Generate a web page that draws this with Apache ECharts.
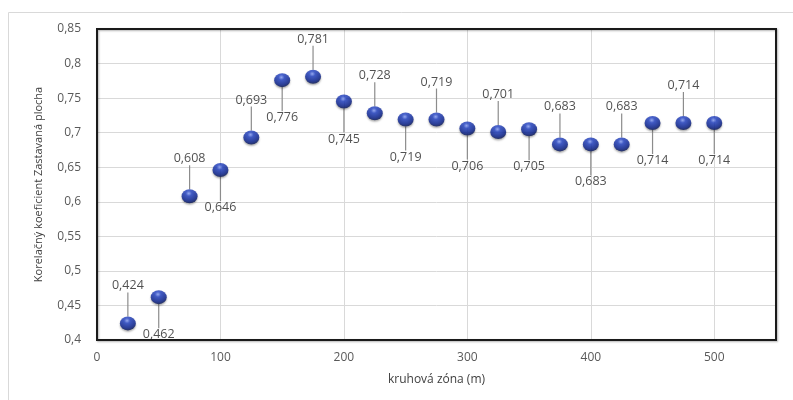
<!DOCTYPE html>
<html>
<head>
<meta charset="utf-8">
<script src="https://cdn.jsdelivr.net/npm/echarts@6/dist/echarts.min.js"></script>
<style>
html,body{margin:0;padding:0;background:#fff;}
#c{width:793px;height:400px;}
</style>
</head>
<body>
<div id="c"></div>
<script>
const zones = [25, 50, 75, 100, 125, 150, 175, 200, 225, 250, 275, 300, 325, 350, 375, 400, 425, 450, 475, 500];
const coefficients = [0.424, 0.462, 0.608, 0.646, 0.693, 0.776, 0.781, 0.745, 0.728, 0.719, 0.719, 0.706, 0.701, 0.705, 0.683, 0.683, 0.683, 0.714, 0.714, 0.714];
const xTitle = 'kruhová zóna (m)';
const yTitle = 'Korelačný koeficient Zastavaná plocha';

const chart = echarts.init(document.getElementById('c'), null, {renderer: 'canvas'});
const font = 'Open Sans, Noto Sans, sans-serif';
const fmt = v => String(v).replace('.', ',');

const data = zones.map((z, i) => ({
  value: [z, coefficients[i]],
  label: { position: i % 2 === 0 ? 'top' : 'bottom' }
}));

const G = { left: 97, top: 29, right: 17, bottom: 60 };

chart.setOption({
  animation: false,
  graphic: [{
    type: 'rect', silent: true, z: -10,
    shape: { x: 8.5, y: 12.5, width: 800, height: 400 },
    style: { fill: 'none', stroke: '#d9d9d9', lineWidth: 1 }
  }, {
    type: 'rect', silent: true, z: 1,
    shape: { x: G.left, y: G.top, width: 793 - G.left - G.right, height: 400 - G.top - G.bottom },
    style: { fill: 'none', stroke: '#1a1a1a', lineWidth: 2,
      shadowColor: 'rgba(0,0,0,0.3)', shadowBlur: 2, shadowOffsetX: 1, shadowOffsetY: 1 }
  }],
  grid: { left: G.left, top: G.top, right: G.right, bottom: G.bottom, containLabel: false },
  xAxis: {
    type: 'value', min: 0, max: 550, interval: 100,
    name: xTitle, nameLocation: 'middle', nameGap: 34,
    nameTextStyle: { fontFamily: font, fontSize: 12, color: '#404040' },
    axisLine: { show: false }, axisTick: { show: false },
    axisLabel: { fontFamily: font, fontSize: 12, color: '#595959', margin: 12,
      showMaxLabel: false },
    splitLine: { show: true, lineStyle: { color: '#d9d9d9', width: 1 } }
  },
  yAxis: {
    type: 'value', min: 0.4, max: 0.85, interval: 0.05,
    name: yTitle, nameLocation: 'middle', nameGap: 53, nameRotate: 90,
    nameTextStyle: { fontFamily: font, fontSize: 11, color: '#404040' },
    axisLine: { show: false }, axisTick: { show: false },
    axisLabel: { fontFamily: font, fontSize: 12, color: '#595959', margin: 16,
      formatter: v => fmt(Math.round(v * 100) / 100) },
    splitLine: { show: true, lineStyle: { color: '#d9d9d9', width: 1 } }
  },
  series: [{
    type: 'scatter',
    symbol: 'circle',
    symbolSize: [16, 14],
    z: 3,
    data: data,
    itemStyle: {
      color: {
        type: 'radial', x: 0.45, y: 0.3, r: 0.75,
        colorStops: [
          { offset: 0, color: '#8ea6ff' },
          { offset: 0.25, color: '#2444c8' },
          { offset: 0.7, color: '#0a2290' },
          { offset: 1, color: '#040f40' }
        ]
      },
      shadowColor: 'rgba(0,0,0,0.4)', shadowBlur: 2, shadowOffsetY: 1.5
    },
    label: {
      show: true, distance: 4,
      fontFamily: font, fontSize: 12.5, color: '#262626',
      formatter: p => fmt(p.value[1])
    },
    labelLayout: p => ({ dy: p.dataIndex % 2 === 0 ? -20 : 20 }),
    labelLine: { show: true, length2: 0, lineStyle: { color: '#8c8c8c', width: 1.2 } }
  }]
});
</script>
</body>
</html>
